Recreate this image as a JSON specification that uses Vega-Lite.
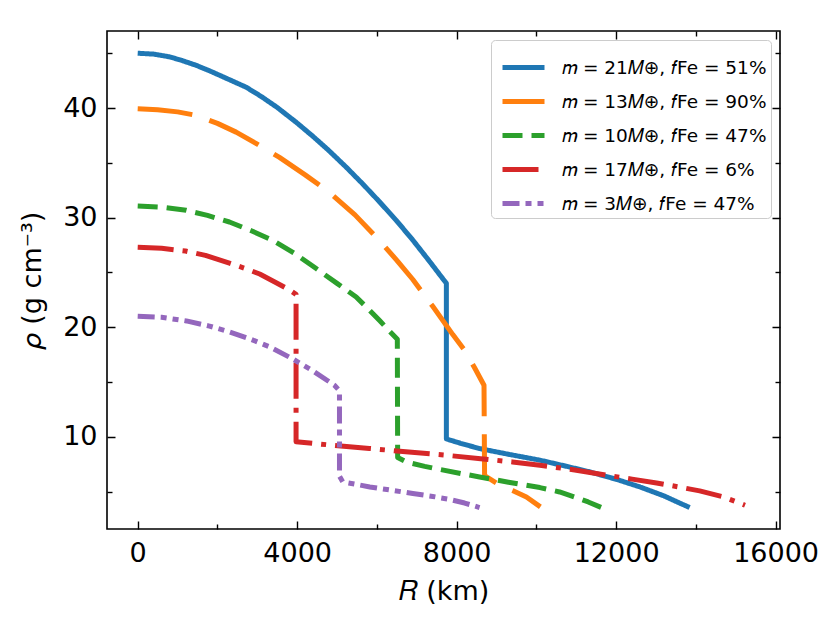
{
  "$schema": "https://vega.github.io/schema/vega-lite/v6.json",
  "description": "Density profiles rho(R) for five planet models.",
  "autosize": {"type": "none"},
  "padding": {"left": 107, "top": 31, "right": 50, "bottom": 94},
  "width": 673,
  "height": 498,
  "data": {
    "values": [
      {"s": "A", "i": 0, "r": 0, "rho": 45.0},
      {"s": "A", "i": 1, "r": 400, "rho": 44.92},
      {"s": "A", "i": 2, "r": 800, "rho": 44.67},
      {"s": "A", "i": 3, "r": 1100, "rho": 44.35},
      {"s": "A", "i": 4, "r": 1465, "rho": 43.9},
      {"s": "A", "i": 5, "r": 1800, "rho": 43.4},
      {"s": "A", "i": 6, "r": 2200, "rho": 42.75},
      {"s": "A", "i": 7, "r": 2720, "rho": 41.9},
      {"s": "A", "i": 8, "r": 3100, "rho": 41.05},
      {"s": "A", "i": 9, "r": 3500, "rho": 40.05},
      {"s": "A", "i": 10, "r": 3975, "rho": 38.7},
      {"s": "A", "i": 11, "r": 4400, "rho": 37.4},
      {"s": "A", "i": 12, "r": 4800, "rho": 36.1},
      {"s": "A", "i": 13, "r": 5230, "rho": 34.6},
      {"s": "A", "i": 14, "r": 5650, "rho": 33.05},
      {"s": "A", "i": 15, "r": 6050, "rho": 31.5},
      {"s": "A", "i": 16, "r": 6484, "rho": 29.75},
      {"s": "A", "i": 17, "r": 6900, "rho": 27.95},
      {"s": "A", "i": 18, "r": 7300, "rho": 26.1},
      {"s": "A", "i": 19, "r": 7742, "rho": 24.0},
      {"s": "A", "i": 20, "r": 7742, "rho": 9.8},
      {"s": "A", "i": 21, "r": 8100, "rho": 9.4},
      {"s": "A", "i": 22, "r": 8575, "rho": 8.92},
      {"s": "A", "i": 23, "r": 9300, "rho": 8.4},
      {"s": "A", "i": 24, "r": 10088, "rho": 7.86},
      {"s": "A", "i": 25, "r": 10700, "rho": 7.35},
      {"s": "A", "i": 26, "r": 11343, "rho": 6.79},
      {"s": "A", "i": 27, "r": 12000, "rho": 6.12},
      {"s": "A", "i": 28, "r": 12598, "rho": 5.42},
      {"s": "A", "i": 29, "r": 13200, "rho": 4.6},
      {"s": "A", "i": 30, "r": 13500, "rho": 4.1},
      {"s": "A", "i": 31, "r": 13844, "rho": 3.54},

      {"s": "B", "i": 0, "r": 0, "rho": 39.94},
      {"s": "B", "i": 1, "r": 500, "rho": 39.85},
      {"s": "B", "i": 2, "r": 1000, "rho": 39.65},
      {"s": "B", "i": 3, "r": 1465, "rho": 39.33},
      {"s": "B", "i": 4, "r": 2000, "rho": 38.6},
      {"s": "B", "i": 5, "r": 2469, "rho": 37.8},
      {"s": "B", "i": 6, "r": 3000, "rho": 36.7},
      {"s": "B", "i": 7, "r": 3556, "rho": 35.5},
      {"s": "B", "i": 8, "r": 4200, "rho": 33.9},
      {"s": "B", "i": 9, "r": 4811, "rho": 32.3},
      {"s": "B", "i": 10, "r": 5450, "rho": 30.25},
      {"s": "B", "i": 11, "r": 6065, "rho": 27.9},
      {"s": "B", "i": 12, "r": 6500, "rho": 26.1},
      {"s": "B", "i": 13, "r": 6901, "rho": 24.35},
      {"s": "B", "i": 14, "r": 7400, "rho": 21.9},
      {"s": "B", "i": 15, "r": 7908, "rho": 19.3},
      {"s": "B", "i": 16, "r": 8200, "rho": 17.9},
      {"s": "B", "i": 17, "r": 8450, "rho": 16.3},
      {"s": "B", "i": 18, "r": 8686, "rho": 14.7},
      {"s": "B", "i": 19, "r": 8700, "rho": 6.45},
      {"s": "B", "i": 20, "r": 9076, "rho": 5.6},
      {"s": "B", "i": 21, "r": 9400, "rho": 5.1},
      {"s": "B", "i": 22, "r": 9750, "rho": 4.5},
      {"s": "B", "i": 23, "r": 10100, "rho": 3.6},

      {"s": "C", "i": 0, "r": 0, "rho": 31.06},
      {"s": "C", "i": 1, "r": 600, "rho": 30.95},
      {"s": "C", "i": 2, "r": 1215, "rho": 30.67},
      {"s": "C", "i": 3, "r": 1750, "rho": 30.2},
      {"s": "C", "i": 4, "r": 2301, "rho": 29.6},
      {"s": "C", "i": 5, "r": 2850, "rho": 28.8},
      {"s": "C", "i": 6, "r": 3388, "rho": 27.93},
      {"s": "C", "i": 7, "r": 3950, "rho": 26.7},
      {"s": "C", "i": 8, "r": 4477, "rho": 25.35},
      {"s": "C", "i": 9, "r": 5000, "rho": 24.0},
      {"s": "C", "i": 10, "r": 5480, "rho": 22.76},
      {"s": "C", "i": 11, "r": 5800, "rho": 21.6},
      {"s": "C", "i": 12, "r": 6067, "rho": 20.6},
      {"s": "C", "i": 13, "r": 6300, "rho": 19.7},
      {"s": "C", "i": 14, "r": 6512, "rho": 18.9},
      {"s": "C", "i": 15, "r": 6520, "rho": 8.1},
      {"s": "C", "i": 16, "r": 6735, "rho": 7.7},
      {"s": "C", "i": 17, "r": 7200, "rho": 7.3},
      {"s": "C", "i": 18, "r": 7600, "rho": 7.0},
      {"s": "C", "i": 19, "r": 8100, "rho": 6.65},
      {"s": "C", "i": 20, "r": 8575, "rho": 6.33},
      {"s": "C", "i": 21, "r": 9300, "rho": 5.85},
      {"s": "C", "i": 22, "r": 10088, "rho": 5.36},
      {"s": "C", "i": 23, "r": 10582, "rho": 4.96},
      {"s": "C", "i": 24, "r": 11000, "rho": 4.45},
      {"s": "C", "i": 25, "r": 11300, "rho": 4.05},
      {"s": "C", "i": 26, "r": 11630, "rho": 3.54},

      {"s": "D", "i": 0, "r": 0, "rho": 27.3},
      {"s": "D", "i": 1, "r": 600, "rho": 27.2},
      {"s": "D", "i": 2, "r": 1200, "rho": 26.95},
      {"s": "D", "i": 3, "r": 1700, "rho": 26.55},
      {"s": "D", "i": 4, "r": 2301, "rho": 25.85},
      {"s": "D", "i": 5, "r": 2700, "rho": 25.35},
      {"s": "D", "i": 6, "r": 3060, "rho": 24.85},
      {"s": "D", "i": 7, "r": 3450, "rho": 24.1},
      {"s": "D", "i": 8, "r": 3807, "rho": 23.4},
      {"s": "D", "i": 9, "r": 3972, "rho": 23.0},
      {"s": "D", "i": 10, "r": 3972, "rho": 9.55},
      {"s": "D", "i": 11, "r": 4893, "rho": 9.22},
      {"s": "D", "i": 12, "r": 5811, "rho": 8.93},
      {"s": "D", "i": 13, "r": 6800, "rho": 8.6},
      {"s": "D", "i": 14, "r": 7739, "rho": 8.31},
      {"s": "D", "i": 15, "r": 8600, "rho": 8.0},
      {"s": "D", "i": 16, "r": 9400, "rho": 7.7},
      {"s": "D", "i": 17, "r": 10088, "rho": 7.4},
      {"s": "D", "i": 18, "r": 11000, "rho": 6.95},
      {"s": "D", "i": 19, "r": 11760, "rho": 6.49},
      {"s": "D", "i": 20, "r": 12400, "rho": 6.13},
      {"s": "D", "i": 21, "r": 13015, "rho": 5.78},
      {"s": "D", "i": 22, "r": 13600, "rho": 5.4},
      {"s": "D", "i": 23, "r": 14095, "rho": 5.06},
      {"s": "D", "i": 24, "r": 14700, "rho": 4.5},
      {"s": "D", "i": 25, "r": 15232, "rho": 3.75},

      {"s": "E", "i": 0, "r": 0, "rho": 21.0},
      {"s": "E", "i": 1, "r": 600, "rho": 20.9},
      {"s": "E", "i": 2, "r": 1220, "rho": 20.57},
      {"s": "E", "i": 3, "r": 1800, "rho": 20.1},
      {"s": "E", "i": 4, "r": 2310, "rho": 19.56},
      {"s": "E", "i": 5, "r": 2800, "rho": 18.95},
      {"s": "E", "i": 6, "r": 3310, "rho": 18.2},
      {"s": "E", "i": 7, "r": 3890, "rho": 17.1},
      {"s": "E", "i": 8, "r": 4400, "rho": 16.0},
      {"s": "E", "i": 9, "r": 4934, "rho": 14.7},
      {"s": "E", "i": 10, "r": 5061, "rho": 14.2},
      {"s": "E", "i": 11, "r": 5061, "rho": 6.4},
      {"s": "E", "i": 12, "r": 5144, "rho": 5.88},
      {"s": "E", "i": 13, "r": 5822, "rho": 5.42},
      {"s": "E", "i": 14, "r": 6400, "rho": 5.1},
      {"s": "E", "i": 15, "r": 6901, "rho": 4.82},
      {"s": "E", "i": 16, "r": 7400, "rho": 4.55},
      {"s": "E", "i": 17, "r": 7800, "rho": 4.3},
      {"s": "E", "i": 18, "r": 8200, "rho": 3.95},
      {"s": "E", "i": 19, "r": 8575, "rho": 3.54}
    ]
  },
  "layer": [
    {
      "mark": {"type": "line", "strokeWidth": 5, "strokeCap": "butt", "strokeJoin": "round"},
      "encoding": {
        "x": {
          "field": "r",
          "type": "quantitative",
          "scale": {"domain": [-770, 16110], "nice": false, "zero": false},
          "axis": {
            "orient": "bottom",
            "values": [0, 2000, 4000, 6000, 8000, 10000, 12000, 14000, 16000],
            "labelExpr": "datum.value % 4000 === 0 ? datum.label : ''",
            "tickDash": {"condition": {"test": "datum.value % 4000 !== 0", "value": [5, 20]}, "value": [1, 0]},
            "format": "d",
            "labelPadding": 19,
            "title": "𝑅 (km)",
            "titlePadding": 12
          }
        },
        "y": {
          "field": "rho",
          "type": "quantitative",
          "scale": {"domain": [1.58, 47.03], "nice": false, "zero": false},
          "axis": {
            "orient": "left",
            "values": [5, 10, 15, 20, 25, 30, 35, 40, 45],
            "labelExpr": "datum.value % 10 === 0 ? datum.label : ''",
            "tickDash": {"condition": {"test": "datum.value % 10 !== 0", "value": [5, 20]}, "value": [1, 0]},
            "labelPadding": 18,
            "title": "𝜌 (g cm⁻³)",
            "titlePadding": 16
          }
        },
        "color": {
          "field": "s",
          "type": "nominal",
          "scale": {
            "domain": ["A", "B", "C", "D", "E"],
            "range": ["#1f77b4", "#ff7f0e", "#2ca02c", "#d62728", "#9467bd"]
          },
          "legend": {
            "orient": "top-right",
            "offset": 9,
            "title": null,
            "labelExpr": "{'A': '𝑚 = 21𝑀⊕, 𝑓Fe = 51%', 'B': '𝑚 = 13𝑀⊕, 𝑓Fe = 90%', 'C': '𝑚 = 10𝑀⊕, 𝑓Fe = 47%', 'D': '𝑚 = 17𝑀⊕, 𝑓Fe = 6%', 'E': '𝑚 = 3𝑀⊕, 𝑓Fe = 47%'}[datum.label]"
          }
        },
        "strokeDash": {
          "field": "s",
          "type": "nominal",
          "scale": {
            "domain": ["A", "B", "C", "D", "E"],
            "range": [[1, 0], [55, 18], [20, 9], [36, 9, 5, 9], [17, 6, 6, 6, 6, 6]]
          },
          "legend": {
            "orient": "top-right",
            "offset": 9,
            "title": null,
            "labelExpr": "{'A': '𝑚 = 21𝑀⊕, 𝑓Fe = 51%', 'B': '𝑚 = 13𝑀⊕, 𝑓Fe = 90%', 'C': '𝑚 = 10𝑀⊕, 𝑓Fe = 47%', 'D': '𝑚 = 17𝑀⊕, 𝑓Fe = 6%', 'E': '𝑚 = 3𝑀⊕, 𝑓Fe = 47%'}[datum.label]"
          }
        },
        "order": {"field": "i", "type": "quantitative"}
      }
    },
    {
      "mark": {"type": "line", "strokeOpacity": 0},
      "encoding": {
        "x": {
          "field": "r",
          "type": "quantitative",
          "axis": {
            "orient": "top",
            "values": [0, 2000, 4000, 6000, 8000, 10000, 12000, 14000, 16000],
            "tickDash": {"condition": {"test": "datum.value % 4000 !== 0", "value": [5, 20]}, "value": [1, 0]},
            "labels": false,
            "title": null
          }
        },
        "y": {
          "field": "rho",
          "type": "quantitative",
          "axis": {
            "orient": "right",
            "values": [5, 10, 15, 20, 25, 30, 35, 40, 45],
            "tickDash": {"condition": {"test": "datum.value % 10 !== 0", "value": [5, 20]}, "value": [1, 0]},
            "labels": false,
            "title": null
          }
        },
        "detail": {"field": "s", "type": "nominal"},
        "order": {"field": "i", "type": "quantitative"}
      }
    }
  ],
  "resolve": {"axis": {"x": "independent", "y": "independent"}},
  "config": {
    "view": {"stroke": "black", "strokeWidth": 1.6},
    "axis": {
      "domain": false,
      "grid": false,
      "tickColor": "black",
      "tickWidth": 1.4,
      "tickSize": -8,
      "labelFont": "DejaVu Sans",
      "labelFontSize": 27,
      "labelColor": "black",
      "titleFont": "DejaVu Sans",
      "titleFontSize": 27,
      "titleFontWeight": "normal",
      "titleColor": "black"
    },
    "legend": {
      "labelFont": "DejaVu Sans",
      "labelFontSize": 18.5,
      "labelColor": "black",
      "labelLimit": 400,
      "labelOffset": 15,
      "symbolType": "stroke",
      "symbolSize": 1764,
      "symbolStrokeWidth": 5,
      "symbolOffset": 5,
      "rowPadding": -9,
      "padding": 4,
      "strokeColor": "#cccccc",
      "fillColor": "white",
      "cornerRadius": 4
    }
  }
}
